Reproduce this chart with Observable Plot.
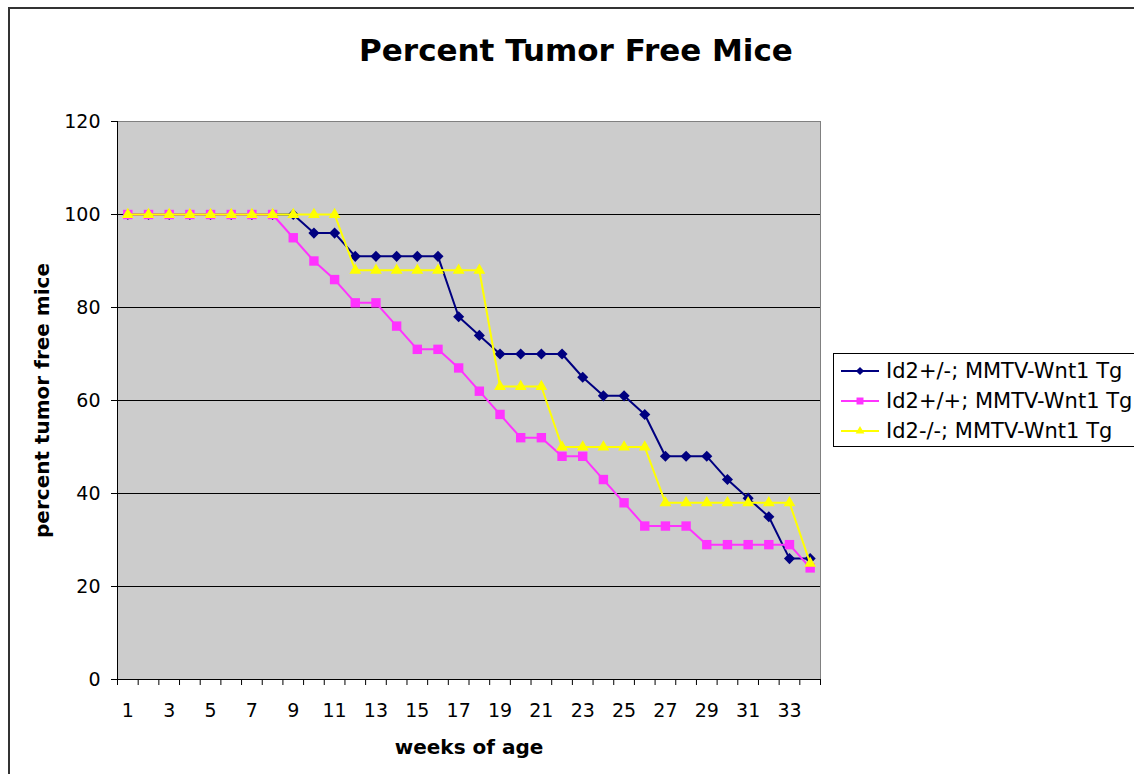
<!DOCTYPE html>
<html><head><meta charset="utf-8">
<script src="https://cdn.jsdelivr.net/npm/d3@7"></script>
<script src="https://cdn.jsdelivr.net/npm/@observablehq/plot@0.6"></script>
<style>
body{margin:0;background:#fff;overflow:hidden;font-family:"DejaVu Sans",Verdana,sans-serif;}
#wrap{position:relative;width:1134px;height:774px;overflow:hidden;background:#fff;}
#border{position:absolute;left:8px;top:7px;width:1200px;height:900px;border:2px solid #333;box-sizing:border-box;pointer-events:none;}
#title{position:absolute;left:0;top:32px;width:1152px;text-align:center;font-weight:bold;font-size:31px;line-height:36px;color:#000;}
#chart{position:absolute;left:0;top:0;}
#legend{position:absolute;left:833px;top:353px;width:320px;height:94px;border:1px solid #000;background:#fff;box-sizing:border-box;font-size:21px;}
.row{position:absolute;left:6px;height:30px;display:flex;align-items:center;white-space:nowrap;}
.row svg{margin-right:6px;}
</style>
</head><body>
<div id="wrap">
  <div id="chart"></div>
  <div id="title">Percent Tumor Free Mice</div>
  <div id="legend"></div>
  <div id="border"></div>
</div>
<script>
const weeks = [1,2,3,4,5,6,7,8,9,10,11,12,13,14,15,16,17,18,19,20,21,22,23,24,25,26,27,28,29,30,31,32,33,34];
const tickLabels = [1,3,5,7,9,11,13,15,17,19,21,23,25,27,29,31,33];
const yTicks = [0,20,40,60,80,100,120];
const seriesNames = ["Id2+/-; MMTV-Wnt1 Tg","Id2+/+; MMTV-Wnt1 Tg","Id2-/-; MMTV-Wnt1 Tg"];
const seriesColors = ["#000080","#ff33ff","#ffff00"];
const seriesSymbols = ["diamond2","square","triangle"];
const heterozygous = [100,100,100,100,100,100,100,100,100,96,96,91,91,91,91,91,78,74,70,70,70,70,65,61,61,57,48,48,48,43,39,35,26,26];
const wildtype     = [100,100,100,100,100,100,100,100,95,90,86,81,81,76,71,71,67,62,57,52,52,48,48,43,38,33,33,33,29,29,29,29,29,24];
const knockout     = [100,100,100,100,100,100,100,100,100,100,100,88,88,88,88,88,88,88,63,63,63,50,50,50,50,50,38,38,38,38,38,38,38,25];
const seriesValues = [heterozygous, wildtype, knockout];
const symbolR = [5.0, 5.3, 4.4];

const rows = [];
seriesNames.forEach((name, i) => {
  weeks.forEach((w, j) => rows.push({series: name, week: w, value: seriesValues[i][j]}));
});
const bandEdges = weeks.map(w => w - 0.5).concat([weeks[weeks.length-1] + 0.5]);

const marks = [
  Plot.frame({fill: "#cccccc", stroke: null}),
  Plot.ruleY(yTicks.filter(v => v > 0 && v < 120), {stroke: "#000", strokeWidth: 1}),
  Plot.ruleY([120], {stroke: "#808080", strokeWidth: 1}),
  Plot.ruleX([34.5], {stroke: "#808080", strokeWidth: 1}),
  Plot.ruleX([0.5], {stroke: "#000", strokeWidth: 1}),
  Plot.ruleY([0], {stroke: "#000", strokeWidth: 1}),
  Plot.axisY({ticks: yTicks, tickSize: 6, tickPadding: 11, label: null, fontSize: 19}),
  Plot.axisX({ticks: bandEdges, tickSize: 6, tickFormat: () => "", label: null}),
  Plot.axisX({ticks: tickLabels, tickSize: 0, tickPadding: 24, tickFormat: d => String(d), label: null, fontSize: 19}),
  Plot.text(["percent tumor free mice"], {frameAnchor: "left", rotate: -90, dx: -75, textAnchor: "middle", lineAnchor: "middle", fontWeight: "bold", fontSize: 20}),
  Plot.text(["weeks of age"], {frameAnchor: "bottom", dy: 68, lineAnchor: "middle", fontWeight: "bold", fontSize: 20})
];
seriesNames.forEach((name, i) => {
  const d = rows.filter(r => r.series === name);
  marks.push(Plot.line(d, {x: "week", y: "value", stroke: seriesColors[i], strokeWidth: 2}));
  marks.push(Plot.dot(d, {x: "week", y: "value", symbol: () => seriesSymbols[i], fill: seriesColors[i], stroke: "none", r: symbolR[i]}));
});

const chart = Plot.plot({
  width: 1134, height: 774,
  marginLeft: 117, marginRight: 314, marginTop: 121, marginBottom: 95,
  x: {type: "linear", domain: [0.5, 34.5]},
  y: {domain: [0, 120]},
  symbol: {type: "identity"},
  style: {fontFamily: "DejaVu Sans, Verdana, sans-serif", fontSize: "19px", color: "#000", background: "transparent", overflow: "visible"},
  marks
});
document.getElementById("chart").appendChild(chart);

// legend
const legend = document.getElementById("legend");
const symPaths = seriesSymbols.map((s, i) => {
  const sym = {diamond2: d3.symbolDiamond2, square: d3.symbolSquare, triangle: d3.symbolTriangle}[s];
  return d3.symbol(sym, symbolR[i] * symbolR[i] * Math.PI * 0.55)();
});
seriesNames.forEach((name, i) => {
  const row = document.createElement("div");
  row.className = "row";
  row.style.top = (2 + i * 30) + "px";
  row.innerHTML = `<svg width="40" height="14"><line x1="1" x2="39" y1="7" y2="7" stroke="${seriesColors[i]}" stroke-width="2"/><path transform="translate(20,7)" d="${symPaths[i]}" fill="${seriesColors[i]}"/></svg><span>${name}</span>`;
  legend.appendChild(row);
});
</script>
</body></html>
